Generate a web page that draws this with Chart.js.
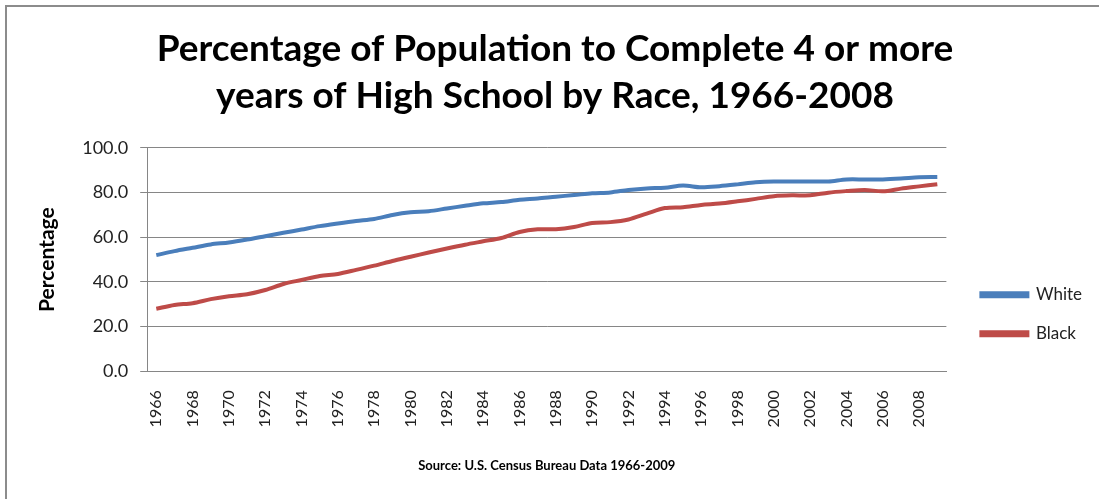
<!DOCTYPE html>
<html lang="en">
<head>
  <meta charset="UTF-8">
  <title>High School Completion by Race</title>
  <script src="https://cdn.jsdelivr.net/npm/chart.js"></script>
  <style>
    html, body { margin: 0; padding: 0; background: #fff; overflow: hidden; }
    #wrap { position: absolute; left: 0; top: 0; width: 1099px; height: 499px; }
    #frame { position: absolute; left: 5px; top: 5px; width: 2000px; height: 2000px;
             border-left: 2px solid #8c8c8c; border-top: 2px solid #8c8c8c; pointer-events: none; }
  </style>
</head>
<body>
  <div id="wrap"><canvas id="chart"></canvas></div>
  <div id="frame"></div>

  <script>
    // years 1966-2009
    const years = [1966, 1967, 1968, 1969, 1970, 1971, 1972, 1973, 1974, 1975,
                   1976, 1977, 1978, 1979, 1980, 1981, 1982, 1983, 1984, 1985,
                   1986, 1987, 1988, 1989, 1990, 1991, 1992, 1993, 1994, 1995,
                   1996, 1997, 1998, 1999, 2000, 2001, 2002, 2003, 2004, 2005,
                   2006, 2007, 2008, 2009];

    // values
    const white = [52.0, 53.8, 55.3, 56.8, 57.7, 59.0, 60.5, 62.0, 63.5, 65.0,
                   66.2, 67.3, 68.2, 70.0, 71.2, 71.7, 72.9, 74.1, 75.2, 75.8,
                   76.8, 77.4, 78.2, 78.9, 79.7, 80.1, 81.2, 81.9, 82.2, 83.2,
                   82.4, 82.9, 83.7, 84.6, 85.0, 85.0, 85.0, 85.0, 85.9, 85.9,
                   85.9, 86.3, 86.9, 87.0];

    const black = [28.0, 29.7, 30.5, 32.3, 33.6, 34.5, 36.4, 39.1, 40.9, 42.7,
                   43.6, 45.4, 47.3, 49.4, 51.3, 53.2, 55.0, 56.7, 58.2, 59.7,
                   62.4, 63.6, 63.6, 64.6, 66.4, 66.8, 68.0, 70.6, 73.1, 73.5,
                   74.5, 75.1, 76.1, 77.2, 78.4, 78.8, 78.8, 80.0, 80.7, 81.2,
                   80.6, 81.8, 82.8, 83.8];

    const yTicks = [0, 20, 40, 60, 80, 100];

    const font = "Lato, 'Open Sans', sans-serif";

    // push the legend a little away from the plot, like the original
    const legendNudge = {
      id: 'legendNudge',
      afterLayout(chart) {
        chart.legend.left += 13;
        chart.legend.right += 13;
      }
    };

    new Chart(document.getElementById('chart'), {
      type: 'line',
      data: {
        labels: years.map(String),
        datasets: [
          { label: 'White', data: white, borderColor: '#4A7EBB', backgroundColor: '#4A7EBB',
            borderWidth: 4, pointRadius: 0, tension: 0.3 },
          { label: 'Black', data: black, borderColor: '#BE4B48', backgroundColor: '#BE4B48',
            borderWidth: 4, pointRadius: 0, tension: 0.3 }
        ]
      },
      plugins: [legendNudge],
      options: {
        responsive: true,
        maintainAspectRatio: false,
        animation: false,
        layout: { padding: { left: 31, right: 20, top: 0, bottom: 25 } },
        plugins: {
          title: {
            display: true,
            text: ['Percentage of Population to Complete 4 or more',
                   'years of High School by Race, 1966-2008'],
            color: '#000',
            font: { family: font, size: 37, weight: 'bold', lineHeight: 1.27 },
            padding: { top: 26, bottom: 28 }
          },
          legend: {
            position: 'right',
            // empty title only used as a spacer to lower the legend items
            title: { display: true, text: ' ', font: { size: 12, lineHeight: 1.2 },
                     padding: { top: 0, bottom: 140 } },
            labels: {
              color: '#222',
              font: { family: font, size: 17 },
              boxWidth: 46,
              boxHeight: 3,
              padding: 22
            }
          },
          tooltip: { enabled: false }
        },
        scales: {
          x: {
            offset: true,
            grid: { display: false },
            border: { display: true, color: '#868686', width: 1 },
            ticks: {
              autoSkip: false,
              maxRotation: 90,
              minRotation: 90,
              color: '#222',
              font: { family: font, size: 16 },
              padding: 11,
              callback: function (val, idx) {
                return idx % 2 === 0 ? years[idx] : '';
              }
            },
            title: {
              display: true,
              text: 'Source: U.S. Census Bureau Data 1966-2009',
              color: '#000',
              font: { family: font, size: 13, weight: 'bold' },
              padding: { top: 20, bottom: 0 }
            }
          },
          y: {
            min: 0,
            max: 100,
            afterBuildTicks: function (axis) {
              axis.ticks = yTicks.map(v => ({ value: v }));
            },
            grid: { color: '#868686', tickLength: 7 },
            border: { display: true, color: '#868686' },
            ticks: {
              color: '#222',
              font: { family: font, size: 18 },
              padding: 12,
              callback: v => v.toFixed(1)
            },
            title: {
              display: true,
              text: 'Percentage',
              color: '#000',
              font: { family: font, size: 21, weight: 'bold' },
              padding: { bottom: 10 }
            }
          }
        }
      }
    });
  </script>
</body>
</html>
